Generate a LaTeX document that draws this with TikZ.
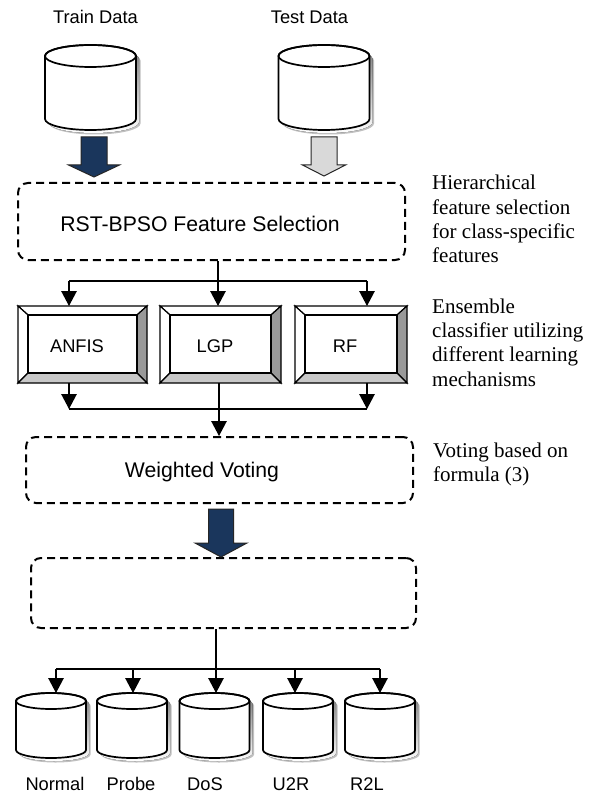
\documentclass[tikz,border=0pt]{standalone}
\usepackage{fontspec}
\newfontfamily\arialf{Liberation Sans}
\newfontfamily\timesf{Liberation Serif}
\usetikzlibrary{arrows.meta,calc}

\definecolor{navyfill}{RGB}{26,54,92}
\definecolor{pale}{RGB}{217,217,217}
\definecolor{bevdark}{RGB}{153,153,153}
\definecolor{bevlight}{RGB}{200,200,200}
\definecolor{shade}{RGB}{140,140,140}

\tikzset{
  conn/.style={line width=1.3pt, draw=black},
  arr/.style={conn, -{Triangle[length=15pt,width=15.5pt]}},
  dashbox/.style={draw, line width=2pt, dash pattern=on 8pt off 5pt,
                  rounded corners=10pt, inner sep=0pt},
  frame/.style={inner sep=0pt, outer sep=0pt},
  sanslbl/.style={font=\arialf\fontsize{18.3}{22}\selectfont, inner sep=0pt},
  biglbl/.style={font=\arialf\fontsize{21.2}{25}\selectfont, inner sep=0pt},
  note/.style={font=\timesf\fontsize{21}{24.3}\selectfont, align=left,
               inner sep=0pt, anchor=north west},
  darkblock/.style={fill=navyfill, draw=black!85, line width=1pt},
  lightblock/.style={fill=pale, draw=black!85, line width=1pt},
  dbline/.style={draw=black, line width=1.7pt},
  bevline/.style={draw=black, line width=1.2pt},
}

% database cylinder: name, centre x, top y, bottom y, x radius, y radius
\newcommand\database[6]{%
  \pgfmathsetmacro\dbyt{#3+#6}%
  \pgfmathsetmacro\dbyb{#4-#6}%
  \pgfmathsetmacro\dbl{#2-#5}%
  \pgfmathsetmacro\dbr{#2+#5}%
  \pgfmathsetmacro\dbk{0.5523*#6}%
  \pgfmathsetmacro\dbkx{0.5523*#5}%
  \pgfmathsetmacro\dbw{2*#5}%
  \pgfmathsetmacro\dbh{#4-#3}%
  \pgfmathsetmacro\dbc{(#3+#4)/2}%
  \node[frame, minimum width=\dbw, minimum height=\dbh] (#1) at (#2,\dbc) {};
  \def\dboutline{(\dbl,\dbyt) -- (\dbl,\dbyb)
     .. controls (\dbl,\dbyb+\dbk) and (#2-\dbkx,\dbyb+#6) .. (#2,\dbyb+#6)
     .. controls (#2+\dbkx,\dbyb+#6) and (\dbr,\dbyb+\dbk) .. (\dbr,\dbyb)
     -- (\dbr,\dbyt)
     .. controls (\dbr,\dbyt-\dbk) and (#2+\dbkx,#3) .. (#2,#3)
     .. controls (#2-\dbkx,#3) and (\dbl,\dbyt-\dbk) .. (\dbl,\dbyt) -- cycle}%
  \fill[shade!55, shift={(4.5,4.5)}] \dboutline;
  \fill[shade, shift={(3,3)}] \dboutline;
  \path[dbline, fill=white] \dboutline;
  \draw[dbline] (#2,\dbyt) ellipse [x radius=#5pt, y radius=#6pt];
}

% bevelled button: name, centre x, centre y, width, height
\newcommand\bevelbox[5]{%
  \node[frame, minimum width=#4, minimum height=#5] (#1) at (#2,#3) {};
  \path[bevline, fill=white] (#1.north west) -- (#1.north east)
     -- ($(#1.north east)+(-10,9)$) -- ($(#1.north west)+(10,9)$) -- cycle;
  \path[bevline, fill=white] (#1.north west) -- ($(#1.north west)+(10,9)$)
     -- ($(#1.south west)+(10,-10)$) -- (#1.south west) -- cycle;
  \path[bevline, fill=bevdark] (#1.north east) -- (#1.south east)
     -- ($(#1.south east)+(-10,-10)$) -- ($(#1.north east)+(-10,9)$) -- cycle;
  \path[bevline, fill=bevlight] (#1.south west) -- (#1.south east)
     -- ($(#1.south east)+(-10,-10)$) -- ($(#1.south west)+(10,-10)$) -- cycle;
  \path[bevline, fill=white] ($(#1.north west)+(10,9)$) rectangle ($(#1.south east)+(-10,-10)$);
}

% block arrow: style, shaft half width, head half width, head length, from, to
\newcommand\blockarrow[6]{%
  \path[#1] let \p1=(#5), \p2=(#6) in
    (\x1-#2pt,\y1) -- (\x1-#2pt,\y2+#4pt) -- (\x1-#3pt,\y2+#4pt) -- (\x1,\y2)
    -- (\x1+#3pt,\y2+#4pt) -- (\x1+#2pt,\y2+#4pt) -- (\x1+#2pt,\y1) -- cycle;
}

\begin{document}
\begin{tikzpicture}[x=1pt, y=-1pt]
  \fill[white] (0,0) rectangle (593,794);
  \useasboundingbox (0,0) rectangle (593,794);

  % input data stores
  \node[sanslbl, anchor=base] (trainlbl) at (95.5,23.5) {Train Data};
  \node[sanslbl, anchor=base] (testlbl) at (309.5,23.5) {Test Data};
  \database{train}{90.5}{45}{130}{45.5}{11}
  \database{test}{324}{45}{130}{45.5}{11}

  % feature selection stage
  \node[dashbox, minimum width=387, minimum height=77] (rst) at (211.5,221.5) {};
  \node[biglbl, anchor=base] (rsttxt) at (200,232) {RST-BPSO Feature Selection};

  \coordinate (ta) at ($(train.south)+(3.5,7)$);
  \coordinate (tb) at ($(ta |- rst.north)+(0,-5)$);
  \blockarrow{darkblock}{13}{25.5}{12}{ta}{tb}
  \coordinate (sa) at ($(test.south)+(0,7)$);
  \coordinate (sb) at ($(sa |- rst.north)+(0,-6)$);
  \blockarrow{lightblock}{13}{21.5}{11}{sa}{sb}

  % ensemble classifiers
  \bevelbox{anfis}{82.5}{344.5}{129}{77}
  \bevelbox{lgp}{220.5}{344.5}{121}{77}
  \bevelbox{rf}{351}{344.5}{112}{77}
  \node[sanslbl, anchor=base] (anfistxt) at (77,352) {ANFIS};
  \node[sanslbl, anchor=base] (lgptxt) at (215,352) {LGP};
  \node[sanslbl, anchor=base] (rftxt) at (345,352) {RF};

  \coordinate (fork) at (218,281);
  \coordinate (forkl) at (69,281);
  \coordinate (forkr) at (367,281);
  \draw[conn] (fork |- rst.south) -- (fork);
  \draw[conn] (forkl) -- (forkr);
  \draw[arr] (forkl) -- (forkl |- anfis.north);
  \draw[arr] (fork) -- (fork |- lgp.north);
  \draw[arr] (forkr) -- (forkr |- rf.north);

  % weighted voting
  \node[dashbox, minimum width=387, minimum height=66] (vote) at (219.5,470) {};
  \node[biglbl, anchor=base] (votetxt) at (202,477) {Weighted Voting};

  \coordinate (joinl) at (69,409);
  \coordinate (joinr) at (367,409);
  \coordinate (joinc) at (219,409);
  \draw[arr] (joinl |- anfis.south) -- (joinl);
  \draw[arr] (joinr |- rf.south) -- (joinr);
  \draw[conn] (joinl) -- (joinr);
  \draw[arr] (joinc |- lgp.south) -- (joinc |- vote.north);

  % result stage
  \node[dashbox, minimum width=385, minimum height=70] (result) at (223.5,593) {};
  \coordinate (va) at ($(vote.south)+(1.5,5)$);
  \coordinate (vb) at (va |- result.north);
  \blockarrow{darkblock}{12.5}{26}{14}{va}{vb}

  % attack classes
  \database{normal}{51}{693}{758}{35}{8}
  \database{probe}{132}{693}{758}{35}{8}
  \database{dos}{214.5}{693}{758}{35}{8}
  \database{u2r}{298}{693}{758}{35}{8}
  \database{r2l}{380}{693}{758}{35}{8}

  \coordinate (split) at (216,669);
  \coordinate (splitl) at (56,669);
  \coordinate (splitp) at (133,669);
  \coordinate (splitu) at (295,669);
  \coordinate (splitr) at (380,669);
  \draw[conn] (split |- result.south) -- (split);
  \draw[conn] (splitl) -- (splitr);
  \draw[arr] (splitl) -- (splitl |- normal.north);
  \draw[arr] (splitp) -- (splitp |- probe.north);
  \draw[arr] (split) -- (split |- dos.north);
  \draw[arr] (splitu) -- (splitu |- u2r.north);
  \draw[arr] (splitr) -- (splitr |- r2l.north);

  \node[sanslbl, anchor=base] (normaltxt) at (55,790) {Normal};
  \node[sanslbl, anchor=base] (probetxt) at (131,790) {Probe};
  \node[sanslbl, anchor=base] (dostxt) at (205,790) {DoS};
  \node[sanslbl, anchor=base] (u2rtxt) at (291,790) {U2R};
  \node[sanslbl, anchor=base] (r2ltxt) at (367,790) {R2L};

  % side notes
  \node[note] (note1) at (432,175.2) {Hierarchical\\feature selection\\for class-specific\\features};
  \node[note] (note2) at (432,298.4) {Ensemble\\classifier utilizing\\different learning\\mechanisms};
  \node[note] (note3) at (433,442.7) {Voting based on\\formula (3)};
\end{tikzpicture}
\end{document}
